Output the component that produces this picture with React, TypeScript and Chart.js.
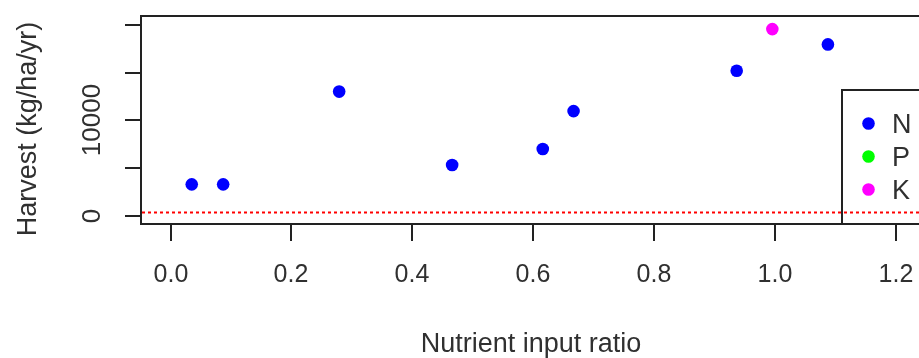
import React, { useEffect, useRef } from "react";
import { Chart, registerables } from "chart.js";

Chart.register(...registerables);

// ---- data ----
const seriesNames = ["N", "P", "K"];
const seriesColors = ["#0000ff", "#00ff00", "#ff00ff"];
const nX = [0.035, 0.087, 0.279, 0.466, 0.616, 0.667, 0.937, 1.088];
const nY = [3270, 3270, 13010, 5300, 6980, 10960, 15190, 17960];
const pX: number[] = [];
const pY: number[] = [];
const kX = [0.996];
const kY = [19570];
const baselineValue = 340;
const xTicks = [0, 0.2, 0.4, 0.6, 0.8, 1.0, 1.2];
const xTickLabels = ["0.0", "0.2", "0.4", "0.6", "0.8", "1.0", "1.2"];
const yTicks = [0, 5000, 10000, 15000, 20000];
const yTickLabels = ["0", "", "10000", "", ""];
const xTitle = "Nutrient input ratio";
const yTitle = "Harvest (kg/ha/yr)";

const FONT = "'Liberation Sans', Arial, sans-serif";
const INK = "#222";
const TEXT = "#303030";

const rPlot = {
  id: "rPlot",
  afterDatasetsDraw(chart: any) {
    const { ctx, chartArea } = chart;
    const xs = chart.scales.x;
    const ys = chart.scales.y;
    const { left, top, right, bottom } = chartArea;
    ctx.save();
    // box
    ctx.strokeStyle = INK;
    ctx.lineWidth = 2;
    ctx.strokeRect(left, top, right - left, bottom - top);
    // x ticks
    ctx.fillStyle = TEXT;
    ctx.font = `25px ${FONT}`;
    ctx.textAlign = "center";
    ctx.textBaseline = "alphabetic";
    xTicks.forEach((v, i) => {
      const px = Math.round(xs.getPixelForValue(v));
      ctx.beginPath();
      ctx.moveTo(px, bottom);
      ctx.lineTo(px, bottom + 17);
      ctx.stroke();
      ctx.fillText(xTickLabels[i], px, 282);
    });
    // y ticks
    ctx.font = `26px ${FONT}`;
    yTicks.forEach((v, i) => {
      const py = Math.round(ys.getPixelForValue(v));
      ctx.beginPath();
      ctx.moveTo(left, py);
      ctx.lineTo(left - 16, py);
      ctx.stroke();
      if (yTickLabels[i]) {
        ctx.save();
        ctx.translate(100, py);
        ctx.rotate(-Math.PI / 2);
        ctx.textAlign = "center";
        ctx.textBaseline = "alphabetic";
        ctx.fillText(yTickLabels[i], 0, 0);
        ctx.restore();
      }
    });
    // titles
    ctx.font = `27px ${FONT}`;
    ctx.textAlign = "center";
    ctx.fillText(xTitle, 531, 352);
    ctx.save();
    ctx.translate(36, 129);
    ctx.rotate(-Math.PI / 2);
    ctx.fillText(yTitle, 0, 0);
    ctx.restore();
    // legend
    const lx = 842;
    const ly = 90;
    ctx.fillStyle = "#fff";
    ctx.fillRect(lx, ly, right - lx, bottom - ly);
    ctx.strokeStyle = INK;
    ctx.lineWidth = 2;
    ctx.strokeRect(lx, ly, right - lx, bottom - ly);
    ctx.textAlign = "left";
    ctx.textBaseline = "alphabetic";
    seriesNames.forEach((name, i) => {
      const cy = 123.5 + i * 33;
      ctx.fillStyle = seriesColors[i];
      ctx.beginPath();
      ctx.arc(868.5, cy, 6.3, 0, Math.PI * 2);
      ctx.fill();
      ctx.fillStyle = TEXT;
      ctx.fillText(name, 892, cy + 9.5);
    });
    // baseline
    const by = Math.round(ys.getPixelForValue(baselineValue)) + 0.5;
    ctx.strokeStyle = "#ff0000";
    ctx.lineWidth = 2;
    ctx.setLineDash([3, 3]);
    ctx.beginPath();
    ctx.moveTo(left + 1, by);
    ctx.lineTo(right, by);
    ctx.stroke();
    ctx.restore();
  },
};

export default function App() {
  const ref = useRef<HTMLCanvasElement | null>(null);
  useEffect(() => {
    document.body.style.margin = "0";
    const toPts = (xs: number[], ys: number[]) => xs.map((x, i) => ({ x, y: ys[i] }));
    const chart = new Chart(ref.current as HTMLCanvasElement, {
      type: "scatter",
      data: {
        datasets: [
          { label: seriesNames[0], data: toPts(nX, nY), backgroundColor: seriesColors[0] },
          { label: seriesNames[1], data: toPts(pX, pY), backgroundColor: seriesColors[1] },
          { label: seriesNames[2], data: toPts(kX, kY), backgroundColor: seriesColors[2] },
        ],
      },
      options: {
        animation: false,
        responsive: false,
        devicePixelRatio: 1,
        layout: { padding: { left: 141, top: 16, right: 44, bottom: 134 } },
        elements: { point: { radius: 6.3, borderWidth: 0, hoverRadius: 6.3 } },
        plugins: { legend: { display: false }, tooltip: { enabled: false } },
        scales: {
          x: { type: "linear", min: -0.049, max: 1.3, display: false },
          y: { type: "linear", min: -892, max: 20944, display: false },
        },
      },
      plugins: [rPlot],
    });
    return () => chart.destroy();
  }, []);
  return (
    <div style={{ position: "fixed", left: 0, top: 0, width: 919, height: 358, overflow: "hidden", background: "#fff" }}>
      <canvas ref={ref} width={1000} height={358} style={{ display: "block" }} />
    </div>
  );
}
